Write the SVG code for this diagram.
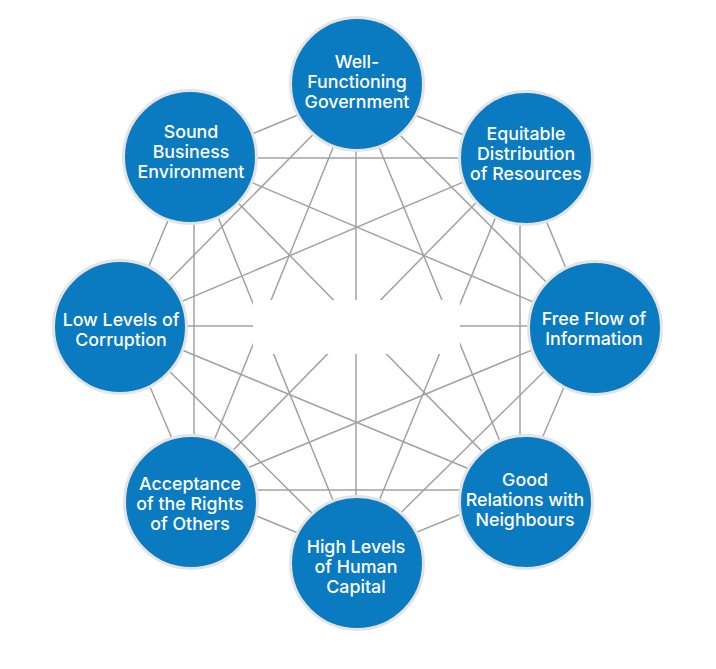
<svg xmlns="http://www.w3.org/2000/svg" width="716" height="669" viewBox="0 0 716 669">
  <style>
    .bg { fill: #ffffff; }
    .edge { stroke: #a2a2a2; stroke-width: 1.5; fill: none; }
    .node circle { fill: #0b7bc1; stroke: #e4e4e4; stroke-width: 3; }
    .node text { fill: #ffffff; font-family: Inter, "Open Sans", "Liberation Sans", sans-serif; font-size: 17.8px; font-weight: 500; text-anchor: middle; }
  </style>
  <rect class="bg" x="0" y="0" width="716" height="669"/>
  <g id="connectors">
    <line class="edge" x1="356" y1="91" x2="520" y2="158"/>
    <line class="edge" x1="356" y1="91" x2="590" y2="326"/>
    <line class="edge" x1="356" y1="91" x2="520" y2="490"/>
    <line class="edge" x1="356" y1="91" x2="356" y2="557"/>
    <line class="edge" x1="356" y1="91" x2="194" y2="490"/>
    <line class="edge" x1="356" y1="91" x2="124" y2="326"/>
    <line class="edge" x1="356" y1="91" x2="194" y2="158"/>
    <line class="edge" x1="520" y1="158" x2="590" y2="326"/>
    <line class="edge" x1="520" y1="158" x2="520" y2="490"/>
    <line class="edge" x1="520" y1="158" x2="356" y2="557"/>
    <line class="edge" x1="520" y1="158" x2="194" y2="490"/>
    <line class="edge" x1="520" y1="158" x2="124" y2="326"/>
    <line class="edge" x1="520" y1="158" x2="194" y2="158"/>
    <line class="edge" x1="590" y1="326" x2="520" y2="490"/>
    <line class="edge" x1="590" y1="326" x2="356" y2="557"/>
    <line class="edge" x1="590" y1="326" x2="194" y2="490"/>
    <line class="edge" x1="590" y1="326" x2="124" y2="326"/>
    <line class="edge" x1="590" y1="326" x2="194" y2="158"/>
    <line class="edge" x1="520" y1="490" x2="356" y2="557"/>
    <line class="edge" x1="520" y1="490" x2="194" y2="490"/>
    <line class="edge" x1="520" y1="490" x2="124" y2="326"/>
    <line class="edge" x1="520" y1="490" x2="194" y2="158"/>
    <line class="edge" x1="356" y1="557" x2="194" y2="490"/>
    <line class="edge" x1="356" y1="557" x2="124" y2="326"/>
    <line class="edge" x1="356" y1="557" x2="194" y2="158"/>
    <line class="edge" x1="194" y1="490" x2="124" y2="326"/>
    <line class="edge" x1="194" y1="490" x2="194" y2="158"/>
    <line class="edge" x1="124" y1="326" x2="194" y2="158"/>
  </g>
  <rect class="bg" x="253" y="300" width="207" height="54"/>
  <g id="node-government" class="node">
    <circle cx="357" cy="84" r="66.5"/>
    <text x="357" y="68">Well-</text>
    <text x="357" y="88">Functioning</text>
    <text x="357" y="108">Government</text>
  </g>
  <g id="node-equitable" class="node">
    <circle cx="526" cy="158" r="66.5"/>
    <text x="526" y="140">Equitable</text>
    <text x="526" y="160">Distribution</text>
    <text x="526" y="180">of Resources</text>
  </g>
  <g id="node-information" class="node">
    <circle cx="595" cy="328" r="66.5"/>
    <text x="594" y="325">Free Flow of</text>
    <text x="594" y="345">Information</text>
  </g>
  <g id="node-neighbours" class="node">
    <circle cx="526" cy="502" r="66.5"/>
    <text x="525" y="486">Good</text>
    <text x="525" y="506">Relations with</text>
    <text x="525" y="526">Neighbours</text>
  </g>
  <g id="node-human-capital" class="node">
    <circle cx="357" cy="563" r="66.5"/>
    <text x="356" y="553">High Levels</text>
    <text x="356" y="573">of Human</text>
    <text x="356" y="593">Capital</text>
  </g>
  <g id="node-rights" class="node">
    <circle cx="191" cy="502" r="66.5"/>
    <text x="190" y="490">Acceptance</text>
    <text x="190" y="510">of the Rights</text>
    <text x="190" y="530">of Others</text>
  </g>
  <g id="node-corruption" class="node">
    <circle cx="120" cy="327" r="66.5"/>
    <text x="121" y="326">Low Levels of</text>
    <text x="121" y="346">Corruption</text>
  </g>
  <g id="node-business" class="node">
    <circle cx="190" cy="157" r="66.5"/>
    <text x="191" y="138">Sound</text>
    <text x="191" y="158">Business</text>
    <text x="191" y="178">Environment</text>
  </g>
</svg>
